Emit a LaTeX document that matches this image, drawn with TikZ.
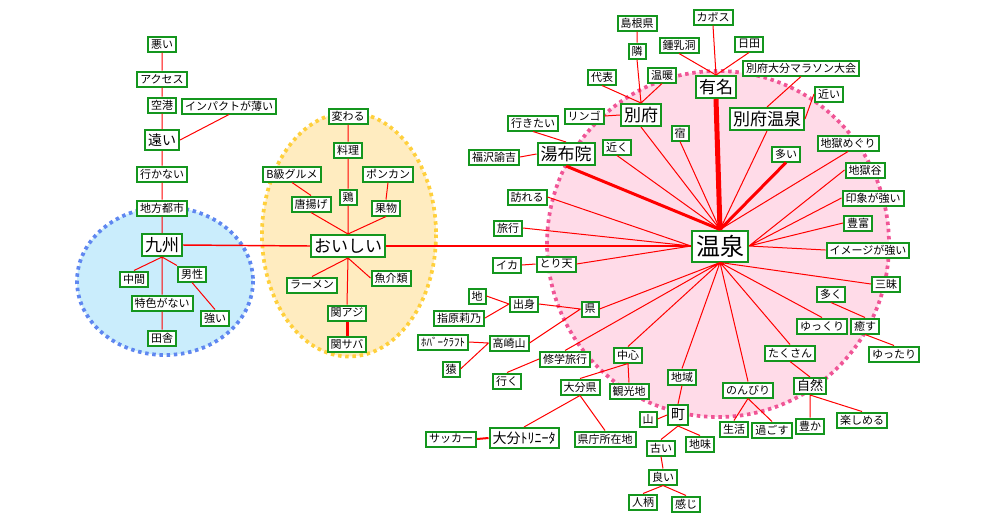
\documentclass[tikz,border=0pt]{standalone}
\usepackage{fontspec}
\setmainfont{Noto Sans CJK JP}
\definecolor{boxgreen}{RGB}{20,150,30}
\definecolor{bluefill}{RGB}{202,237,252}
\definecolor{blueline}{RGB}{95,135,240}
\definecolor{yellowfill}{RGB}{255,236,192}
\definecolor{yellowline}{RGB}{255,208,60}
\definecolor{pinkfill}{RGB}{255,219,232}
\definecolor{pinkline}{RGB}{240,85,150}
\begin{document}
\begin{tikzpicture}[x=0.75pt, y=-0.75pt,
  kw/.style={draw=boxgreen, line width=1.5pt, fill=white, inner xsep=2.25pt, inner ysep=0pt,
    minimum height=11.25pt, font=\fontsize{8.25pt}{9pt}\selectfont},
  kwm/.style={kw, minimum height=15pt, font=\fontsize{10.5pt}{12pt}\selectfont},
  kwl/.style={kw, minimum height=16.5pt, font=\fontsize{12.75pt}{14pt}\selectfont},
  kwh/.style={kw, minimum height=23.25pt, inner xsep=3pt, font=\fontsize{18pt}{20pt}\selectfont},
  lnk/.style={red, line width=0.75pt},
  zone/.style={line width=2.8pt, dash pattern=on 2.6pt off 2.8pt}]
  \useasboundingbox (0,0) rectangle (1000,519);

  % Zones
  \draw[zone, draw=blueline, fill=bluefill] (165,281) ellipse [x radius=88, y radius=74];
  \draw[zone, draw=yellowline, fill=yellowfill] (349,234.5) ellipse [x radius=87, y radius=122];
  \draw[zone, draw=pinkline, fill=pinkfill] (718,244) ellipse [x radius=171, y radius=173];

  % Kyushu
  \node[kw] (warui) at (162,44) {悪い};
  \node[kw] (access) at (162,79) {アクセス};
  \node[kw] (kuko) at (162,105) {空港};
  \node[kw] (impact) at (229,106) {インパクトが薄い};
  \node[kwm] (tooi) at (162,140) {遠い};
  \node[kw] (ikanai) at (162,174) {行かない};
  \node[kw] (chiho) at (162,208) {地方都市};
  \node[kwl] (kyushu) at (162,245) {九州};
  \node[kw] (chukan) at (134,279) {中間};
  \node[kw] (dansei) at (192,274) {男性};
  \node[kw] (tokushoku) at (162,303) {特色がない};
  \node[kw] (tsuyoi) at (215,318) {強い};
  \node[kw] (inaka) at (162,338) {田舎};

  % Oishii
  \node[kw] (kawaru) at (348,116) {変わる};
  \node[kw] (ryori) at (348,150) {料理};
  \node[kw] (bkyu) at (292,174) {B級グルメ};
  \node[kw] (ponkan) at (388,174) {ポンカン};
  \node[kw] (karaage) at (311,204) {唐揚げ};
  \node[kw] (tori) at (348,197) {鶏};
  \node[kw] (kudamono) at (386,208) {果物};
  \node[kwl] (oishii) at (348,246) {おいしい};
  \node[kw] (ramen) at (312,285) {ラーメン};
  \node[kw] (gyokai) at (391,278) {魚介類};
  \node[kw] (sekiaji) at (347,313) {関アジ};
  \node[kw] (sekisaba) at (347,344) {関サバ};

  % Onsen, upper part
  \node[kw] (shimane) at (637,23) {島根県};
  \node[kw] (tonari) at (637,51) {隣};
  \node[kw] (shonyudo) at (679,45) {鍾乳洞};
  \node[kw] (kabosu) at (713,17) {カボス};
  \node[kw] (hita) at (749,44) {日田};
  \node[kw] (marathon) at (801,68) {別府大分マラソン大会};
  \node[kwl] (yumei) at (716,87) {有名};
  \node[kw] (daihyo) at (602,77) {代表};
  \node[kw] (ondan) at (662,75) {温暖};
  \node[kwl] (beppu) at (641,115) {別府};
  \node[kw] (ringo) at (584,116) {リンゴ};
  \node[kw] (ikitai) at (533,123) {行きたい};
  \node[kwl] (yufuin) at (566,154) {湯布院};
  \node[kw] (fukuzawa) at (494,157) {福沢諭吉};
  \node[kw] (chikaku) at (617,147) {近く};
  \node[kw] (yado) at (680,133) {宿};
  \node[kwl] (beppuonsen) at (767,119) {別府温泉};
  \node[kw] (chikai) at (829,94) {近い};
  \node[kw] (ooi) at (786,154) {多い};
  \node[kw] (jigokumeguri) at (848,143) {地獄めぐり};
  \node[kw] (jigokudani) at (865,170) {地獄谷};

  % Onsen, right part
  \node[kwh] (onsen) at (720,246) {温泉};
  \node[kw] (insho) at (873,198) {印象が強い};
  \node[kw] (hofu) at (858,223) {豊富};
  \node[kw] (image) at (868,250) {イメージが強い};
  \node[kw] (zanmai) at (886,284) {三昧};
  \node[kw] (ooku) at (831,294) {多く};
  \node[kw] (yukkuri) at (822,326) {ゆっくり};
  \node[kw] (iyasu) at (865,326) {癒す};
  \node[kw] (yuttari) at (894,354) {ゆったり};
  \node[kw] (takusan) at (790,353) {たくさん};
  \node[kw, minimum height=12pt, font=\fontsize{9.75pt}{11pt}\selectfont] (shizen) at (810,386) {自然};
  \node[kw] (nonbiri) at (748,390) {のんびり};
  \node[kw] (seikatsu) at (734,429) {生活};
  \node[kw] (sugosu) at (772,430) {過ごす};
  \node[kw] (yutaka) at (810,426) {豊か};
  \node[kw] (tanoshimeru) at (862,420) {楽しめる};

  % Onsen, left and lower part
  \node[kw] (otozureru) at (527,197) {訪れる};
  \node[kw] (ryoko) at (508,228) {旅行};
  \node[kw] (ika) at (507,265) {イカ};
  \node[kw] (toriten) at (556,264) {とり天};
  \node[kw] (chi) at (477,296) {地};
  \node[kw] (shusshin) at (524,304) {出身};
  \node[kw] (sashihara) at (459,318) {指原莉乃};
  \node[kw] (ken) at (590,309) {県};
  \node[kw] (hover) at (443,342) {ﾎﾊﾞｰｸﾗﾌﾄ};
  \node[kw] (takasaki) at (509,343) {高崎山};
  \node[kw] (saru) at (451,369) {猿};
  \node[kw] (shugaku) at (565,359) {修学旅行};
  \node[kw] (iku) at (507,381) {行く};
  \node[kw] (chushin) at (628,355) {中心};
  \node[kw] (chiiki) at (682,377) {地域};
  \node[kw] (oitaken) at (580,387) {大分県};
  \node[kw] (kanko) at (629,391) {観光地};
  \node[kwm] (machi) at (678,415) {町};
  \node[kw] (yama) at (648,419) {山};
  \node[kw] (soccer) at (451,439) {サッカー};
  \node[kwm] (trinita) at (524,438) {大分ﾄﾘﾆｰﾀ};
  \node[kw] (kencho) at (605,439) {県庁所在地};
  \node[kw] (jimi) at (700,444) {地味};
  \node[kw] (furui) at (661,448) {古い};
  \node[kw] (yoi) at (663,477) {良い};
  \node[kw] (hitogara) at (643,502) {人柄};
  \node[kw] (kanji) at (686,504) {感じ};

  % Links, Kyushu
  \draw[lnk] (warui.south) -- (access.north) (access.south) -- (kuko.north)
    (kuko.south) -- (tooi.north) (impact.south) -- (tooi.east)
    (tooi.south) -- (ikanai.north) (ikanai.south) -- (chiho.north)
    (chiho.south) -- (kyushu.north);
  \draw[lnk] (kyushu.south) -- (chukan.north) (kyushu.south) -- (tokushoku.north)
    (kyushu.south) -- (dansei.north west) (dansei.south) -- (tsuyoi.north)
    (tokushoku.south) -- (inaka.north);
  \draw[lnk, line width=1.1pt] (kyushu.east) -- (oishii.west);

  % Links, Oishii
  \draw[lnk] (kawaru.south) -- (ryori.north) (ryori.south) -- (tori.north)
    (bkyu.south) -- (karaage.north) (ponkan.south) -- (kudamono.north)
    (karaage.south) -- (oishii.north) (tori.south) -- (oishii.north)
    (kudamono.south) -- (oishii.north);
  \draw[lnk] (oishii.south) -- (ramen.north) (oishii.south) -- (gyokai.west)
    (oishii.south) -- (sekiaji.north);
  \draw[lnk, line width=2.25pt] (sekiaji.south) -- (sekisaba.north);
  \draw[lnk, line width=1.1pt] (oishii.east) -- (onsen.west);

  % Links, Onsen
  \draw[lnk] (shimane.south) -- (tonari.north) (tonari.south) -- (beppu.north)
    (daihyo.south) -- (beppu.north) (ondan.south) -- (beppu.north)
    (ringo.east) -- (beppu.west) (ikitai.south) -- (yufuin.north)
    (fukuzawa.east) -- (yufuin.west) (shonyudo.south) -- (yumei.north)
    (kabosu.south) -- (yumei.north) (hita.south) -- (yumei.north)
    (marathon.south) -- (beppuonsen.north) (chikai.west) -- (beppuonsen.east);
  \draw[lnk] (beppu.south) -- (onsen.north) (chikaku.south) -- (onsen.north)
    (yado.south) -- (onsen.north) (beppuonsen.south) -- (onsen.north)
    (jigokumeguri.south) -- (onsen.north);
  \draw[lnk, line width=2.25pt] (yufuin.south) -- (onsen.north) (ooi.south) -- (onsen.north);
  \draw[lnk, line width=3.75pt] (yumei.south) -- (onsen.north);
  \draw[lnk] (jigokudani.west) -- (onsen.east) (insho.west) -- (onsen.east)
    (hofu.west) -- (onsen.east) (image.west) -- (onsen.east);
  \draw[lnk] (otozureru.east) -- (onsen.west) (ryoko.east) -- (onsen.west)
    (toriten.east) -- (onsen.west) (ika.east) -- (toriten.west);
  \draw[lnk] (ken.east) -- (onsen.south) (shugaku.north) -- (onsen.south)
    (chushin.north) -- (onsen.south) (chiiki.north) -- (onsen.south)
    (nonbiri.north) -- (onsen.south) (takusan.north) -- (onsen.south)
    (yukkuri.north) -- (onsen.south) (zanmai.west) -- (onsen.south);
  \draw[lnk] (chi.east) -- (shusshin.west) (sashihara.east) -- (shusshin.west)
    (shusshin.east) -- (ken.west) (takasaki.east) -- (ken.west)
    (hover.east) -- (takasaki.west) (saru.east) -- (takasaki.west)
    (shugaku.west) -- (iku.north);
  \draw[lnk] (chushin.south) -- (oitaken.north) (chushin.south) -- (kanko.north)
    (oitaken.south) -- (trinita.north) (oitaken.south) -- (kencho.north);
  \draw[lnk, line width=1.5pt] (soccer.east) -- (trinita.west);
  \draw[lnk] (chiiki.south) -- (machi.north) (yama.east) -- (machi.west)
    (machi.south) -- (furui.north) (machi.south) -- (jimi.north)
    (furui.south) -- (yoi.north) (yoi.south) -- (hitogara.north)
    (yoi.south) -- (kanji.north);
  \draw[lnk] (takusan.south) -- (shizen.north) (shizen.south) -- (yutaka.north)
    (shizen.south) -- (tanoshimeru.north) (nonbiri.south) -- (seikatsu.north)
    (nonbiri.south) -- (sugosu.north) (ooku.south) -- (iyasu.north)
    (iyasu.south) -- (yuttari.north);
\end{tikzpicture}
\end{document}
